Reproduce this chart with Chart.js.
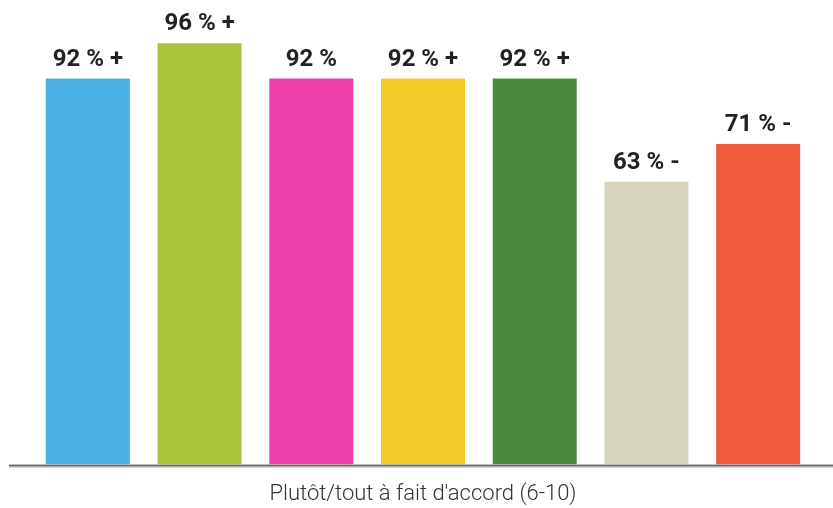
<!DOCTYPE html>
<html>
<head>
<meta charset="utf-8">
<script src="https://cdn.jsdelivr.net/npm/chart.js@4/dist/chart.umd.min.js"></script>
<style>
  html, body { margin: 0; padding: 0; background: #fff; }
  #wrap { width: 833px; height: 508px; }
</style>
</head>
<body>
<div id="wrap"><canvas id="chart"></canvas></div>
<script>
// données
const categories = ['A', 'B', 'C', 'D', 'E', 'F', 'G'];
const values = [92, 100.4, 92, 92, 92, 67.4, 76.4];
const valueLabels = ['92 % +', '96 % +', '92 %', '92 % +', '92 % +', '63 % -', '71 % -'];
const barColors = ['#4baee0', '#a8c43b', '#ef3fa9', '#f0cb27', '#4a8b3e', '#d7d5bd', '#f15a3d'];
const axisTitle = "Plutôt/tout à fait d'accord (6-10)";

// étiquettes au-dessus des barres
const topLabels = {
  id: 'topLabels',
  afterDatasetsDraw(chart) {
    const ctx = chart.ctx;
    const meta = chart.getDatasetMeta(0);
    ctx.save();
    ctx.font = 'bold 24px Roboto';
    ctx.fillStyle = '#222';
    ctx.textAlign = 'center';
    ctx.textBaseline = 'alphabetic';
    meta.data.forEach((bar, i) => {
      ctx.fillText(valueLabels[i], bar.x, bar.y - 13);
    });
    ctx.restore();
  }
};

// ligne de base sur toute la largeur
const baseLine = {
  id: 'baseLine',
  afterDatasetsDraw(chart) {
    const ctx = chart.ctx;
    const y = chart.chartArea.bottom;
    ctx.save();
    ctx.fillStyle = '#666';
    ctx.fillRect(9, y, chart.width - 9, 2);
    ctx.fillStyle = '#bbb';
    ctx.fillRect(9, y + 2, chart.width - 9, 1);
    ctx.restore();
  }
};

new Chart(document.getElementById('chart'), {
  type: 'bar',
  data: {
    labels: categories,
    datasets: [{
      data: values,
      backgroundColor: barColors,
      borderWidth: 0,
      categoryPercentage: 1,
      barPercentage: 0.752
    }]
  },
  options: {
    responsive: true,
    maintainAspectRatio: false,
    animation: false,
    layout: { padding: { left: 32, right: 19, top: 3, bottom: 0 } },
    plugins: { legend: { display: false }, tooltip: { enabled: false } },
    scales: {
      x: {
        grid: { display: false, drawTicks: false },
        border: { display: false },
        ticks: { display: false },
        title: {
          display: true,
          text: axisTitle,
          color: '#333',
          font: { family: 'Roboto', size: 22, weight: '300', lineHeight: 1.2 },
          padding: { top: 17, bottom: 0 }
        }
      },
      y: {
        display: false,
        min: 0,
        max: 110
      }
    }
  },
  plugins: [topLabels, baseLine]
});
</script>
</body>
</html>
